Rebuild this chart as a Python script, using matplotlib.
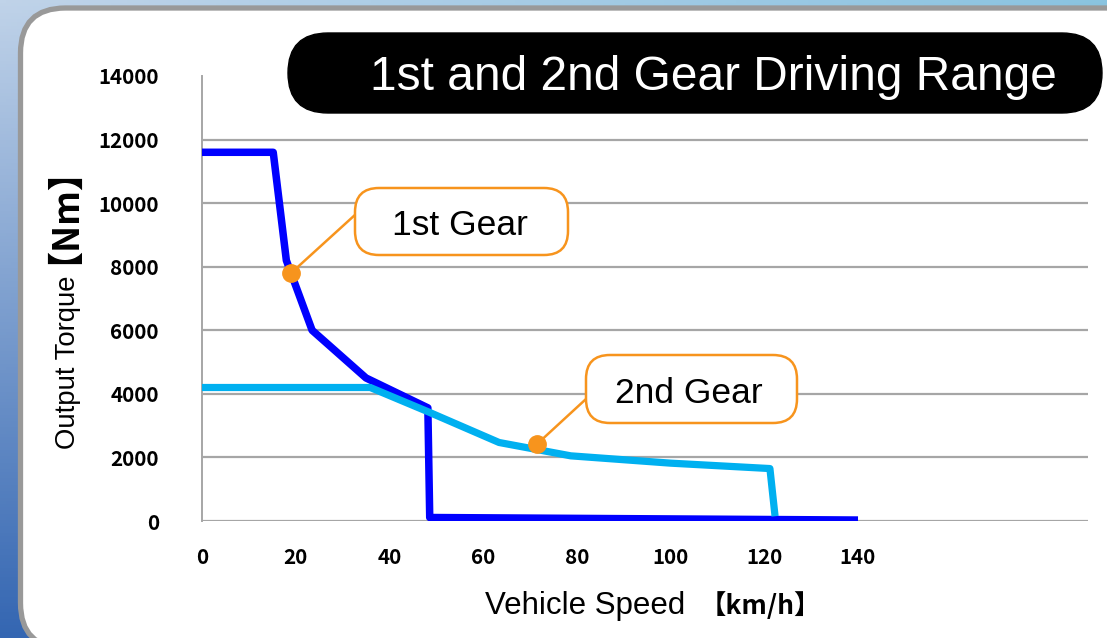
import numpy as np
import matplotlib
matplotlib.use('Agg')
import matplotlib.pyplot as plt
from matplotlib.patches import FancyBboxPatch

# ---------------- data ----------------
gear1_speed = [0, 15.2, 18.0, 23.5, 35.0, 48.2, 48.6, 140]
gear1_torque = [11600, 11600, 8200, 6000, 4500, 3560, 110, 30]
gear2_speed = [0, 35.9, 48.2, 63.4, 78.7, 100, 121.2, 122.3]
gear2_torque = [4200, 4200, 3440, 2470, 2050, 1820, 1650, 150]
marker_speed = [19.0, 71.5]
marker_torque = [7800, 2420]
callout_labels = ['1st Gear', '2nd Gear']
x_ticks = [0, 20, 40, 60, 80, 100, 120, 140]
y_ticks = [0, 2000, 4000, 6000, 8000, 10000, 12000, 14000]
title_text = '1st and 2nd Gear Driving Range'
ylabel_text = 'Output Torque'
ylabel_unit = '【Nm】'
xlabel_text = 'Vehicle Speed'
xlabel_unit = '【km/h】'

W, H = 1107, 638
fig = plt.figure(figsize=(W / 100, H / 100), dpi=100)

# ---------------- background & panel ----------------
bg = fig.add_axes([0, 0, 1, 1], zorder=0)
bg.axis('off')
xs = np.linspace(0, 1, 200)
ys = np.linspace(0, 1, 200)
top_l = np.array([192, 211, 233]) / 255
top_r = np.array([138, 196, 224]) / 255
bot = np.array([52, 102, 178]) / 255
topc = top_l[None, :] * (1 - xs[:, None]) + top_r[None, :] * xs[:, None]
img = topc[None, :, :] * (1 - ys[:, None, None]) + bot[None, None, :] * ys[:, None, None]
bg.imshow(img, extent=[0, W, 0, H], aspect='auto', origin='upper', zorder=0)
bg.set_xlim(0, W)
bg.set_ylim(0, H)

panel = FancyBboxPatch((20.5, H - 648), 1200, 648 - 8,
                       boxstyle='round,pad=0,rounding_size=45',
                       facecolor='white', edgecolor='#999999', lw=3.8, zorder=1)
bg.add_patch(panel)

pill = FancyBboxPatch((288, H - 113), 1102 - 288, 80,
                      boxstyle='round,pad=0,rounding_size=40',
                      facecolor='black', edgecolor='black', lw=1, zorder=2)
bg.add_patch(pill)
bg.text(713, H - 90, title_text, color='white', fontsize=34.5,
        family='Liberation Sans', ha='center', va='baseline', zorder=3)

# ---------------- main axes ----------------
x0, x1 = 202, 1088
y0, y1 = 521, 76
ax = fig.add_axes([x0 / W, (H - y0) / H, (x1 - x0) / W, (y0 - y1) / H], zorder=1)
ax.patch.set_alpha(0)
xmax = 140 * (x1 - x0) / (858 - 202)
ax.set_xlim(0, xmax)
ax.set_ylim(0, 14000)

grid_c = '#A6A6A6'
for t in y_ticks[:-1]:
    ax.axhline(t, color=grid_c, lw=1.6, zorder=1)
for s in ['top', 'right', 'bottom']:
    ax.spines[s].set_visible(False)
ax.spines['left'].set_color(grid_c)
ax.spines['left'].set_linewidth(1.4)

ax.plot(gear1_speed, gear1_torque, color='#0000FF', lw=5.4,
        solid_joinstyle='round', solid_capstyle='butt', zorder=3)
ax.plot(gear2_speed, gear2_torque, color='#00B0F0', lw=5.2,
        solid_joinstyle='round', solid_capstyle='butt', zorder=4)

ax.set_xticks(x_ticks)
ax.set_yticks(y_ticks)
ax.tick_params(length=0)
ax.tick_params(axis='y', pad=31)
ax.tick_params(axis='x', pad=19)
for lab in ax.get_xticklabels() + ax.get_yticklabels():
    lab.set_family('Noto Sans CJK JP')
    lab.set_fontweight('bold')
    lab.set_fontsize(14.8)

# axis labels (pixel positions)
fig.text(485 / W, (H - 614) / H, xlabel_text, fontsize=22.5,
         family='Liberation Sans', ha='left', va='baseline')
fig.text(700 / W, (H - 614) / H, xlabel_unit, fontsize=19,
         family='Noto Sans CJK JP', fontweight='bold', ha='left', va='baseline')

fig.text(68 / W, (H - 449) / H, ylabel_text, fontsize=19.8,
         family='Liberation Sans', rotation=90, rotation_mode='anchor',
         ha='left', va='center')
fig.text(46 / W, (H - 264) / H, ylabel_unit, fontsize=26,
         family='Noto Sans CJK JP', fontweight='bold', rotation=90,
         rotation_mode='anchor', ha='left', va='center')

# ---------------- callouts overlay ----------------
ov = fig.add_axes([0, 0, 1, 1], zorder=2)
ov.set_xlim(0, W)
ov.set_ylim(0, H)
ov.axis('off')
ov.patch.set_alpha(0)

orange = '#F7941D'
boxes = [(355, 188, 568, 255), (586, 355, 797, 423)]
text_pos = [(459.5, 235), (689, 403)]
attach = [(356, 214), (586, 399)]
for i in range(2):
    px, py = ax.transData.transform((marker_speed[i], marker_torque[i]))
    bx0, by0, bx1, by1 = boxes[i]
    ov.plot([px, attach[i][0]], [py, H - attach[i][1]], color=orange, lw=1.8, zorder=2)
    ov.plot([px], [py], 'o', color=orange, ms=12.5, zorder=4)
    ov.add_patch(FancyBboxPatch((bx0, H - by1), bx1 - bx0, by1 - by0,
                                boxstyle='round,pad=0,rounding_size=24',
                                facecolor='white', edgecolor=orange, lw=1.8, zorder=3))
    ov.text(text_pos[i][0], H - text_pos[i][1], callout_labels[i], fontsize=25.5,
            family='Liberation Sans', ha='center', va='baseline', zorder=5)

fig.savefig('out.png', dpi=100)
